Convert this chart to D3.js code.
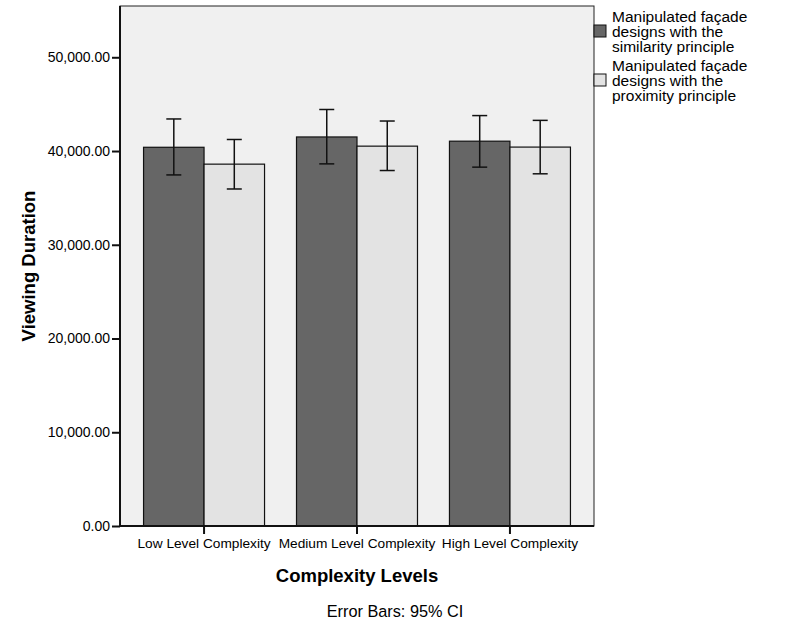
<!DOCTYPE html>
<html><head><meta charset="utf-8">
<script src="https://cdn.jsdelivr.net/npm/d3@7"></script>
<style>
body{margin:0;background:#fff;}
text{font-family:Arial,"Liberation Sans",sans-serif;fill:#000;}
</style></head>
<body><svg id="c" width="793" height="635"></svg>
<script>
const categories = ["Low Level Complexity","Medium Level Complexity","High Level Complexity"];
const seriesNames = ["Manipulated façade designs with the similarity principle","Manipulated façade designs with the proximity principle"];
const similarityMean  = [40400, 41500, 41050];
const similarityLower = [37450, 38630, 38280];
const similarityUpper = [43420, 44430, 43780];
const proximityMean   = [38600, 40520, 40420];
const proximityLower  = [35950, 37920, 37570];
const proximityUpper  = [41230, 43200, 43270];
const yTicks = [0, 10000, 20000, 30000, 40000, 50000];
const legendLines = [["Manipulated façade","designs with the","similarity principle"],["Manipulated façade","designs with the","proximity principle"]];
const colors = ["#666666","#e3e3e3"];

const svg = d3.select("#c");
const L=120, R=594, T=6, B=526;
const x = d3.scaleBand().domain(categories).range([L,R]).paddingInner(0.209).paddingOuter(0.154);
const x1 = d3.scaleBand().domain([0,1]).range([0,x.bandwidth()]);
const y = d3.scaleLinear().domain([0,55470]).range([B,T]);

svg.append("rect").attr("x",L).attr("y",T).attr("width",R-L).attr("height",B-T)
  .attr("fill","#f0f0f0").attr("stroke","#222").attr("stroke-width",1);

const series = [
  {mean:similarityMean, lo:similarityLower, hi:similarityUpper},
  {mean:proximityMean, lo:proximityLower, hi:proximityUpper}
];
series.forEach((s,si)=>{
  categories.forEach((c,ci)=>{
    const bx = x(c)+x1(si);
    svg.append("rect").attr("x",bx).attr("y",y(s.mean[ci])).attr("width",x1.bandwidth())
      .attr("height",y(0)-y(s.mean[ci])).attr("fill",colors[si]).attr("stroke","#111").attr("stroke-width",1.2);
  });
});
series.forEach((s,si)=>{
  categories.forEach((c,ci)=>{
    const cx = x(c)+x1(si)+x1.bandwidth()/2;
    const g = svg.append("g").attr("stroke","#111").attr("stroke-width",1.5);
    g.append("line").attr("x1",cx).attr("x2",cx).attr("y1",y(s.lo[ci])).attr("y2",y(s.hi[ci]));
    g.append("line").attr("x1",cx-7.5).attr("x2",cx+7.5).attr("y1",y(s.lo[ci])).attr("y2",y(s.lo[ci]));
    g.append("line").attr("x1",cx-7.5).attr("x2",cx+7.5).attr("y1",y(s.hi[ci])).attr("y2",y(s.hi[ci]));
  });
});

// Y axis
const ya = svg.append("g").attr("transform",`translate(${L},0)`)
  .call(d3.axisLeft(y).tickValues(yTicks).tickFormat(d3.format(",.2f")).tickSize(8).tickPadding(2));
ya.select(".domain").attr("stroke","#111").attr("stroke-width",2).attr("d",`M0,${T}V${B}`);
ya.selectAll(".tick line").attr("stroke","#111").attr("stroke-width",2);
ya.selectAll(".tick text").style("font-size","14px").attr("fill","#000");

// X axis
const xa = svg.append("g").attr("transform",`translate(0,${B})`)
  .call(d3.axisBottom(x).tickSize(8).tickPadding(4));
xa.select(".domain").attr("stroke","#111").attr("stroke-width",2).attr("d",`M${L},0H${R}`);
xa.selectAll(".tick line").attr("stroke","#111").attr("stroke-width",2);
xa.selectAll(".tick text").style("font-size","13.7px").attr("fill","#000");

svg.append("text").attr("transform","translate(35,266) rotate(-90)").attr("text-anchor","middle")
  .style("font-size","18.5px").style("font-weight","bold").text("Viewing Duration");
svg.append("text").attr("x",357).attr("y",582).attr("text-anchor","middle")
  .style("font-size","18.5px").style("font-weight","bold").text("Complexity Levels");
svg.append("text").attr("x",395).attr("y",617).attr("text-anchor","middle")
  .style("font-size","16.3px").text("Error Bars: 95% CI");

// Legend
const lg = svg.append("g");
legendLines.forEach((lines,i)=>{
  const top = i*49;
  lg.append("rect").attr("x",594).attr("y",top+25).attr("width",12).attr("height",12)
    .attr("fill",colors[i]).attr("stroke","#111").attr("stroke-width",1);
  lines.forEach((t,j)=>{
    lg.append("text").attr("x",612).attr("y",top+22+j*15).style("font-size","15.5px").text(t);
  });
});
</script></body></html>
